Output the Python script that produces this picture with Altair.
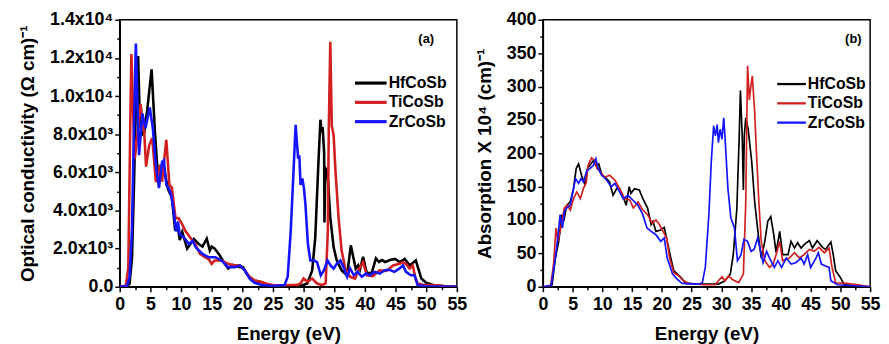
import altair as alt
import pandas as pd

MATERIALS = ["HfCoSb", "TiCoSb", "ZrCoSb"]
COLORS = ["#000000", "#d21f1f", "#1414ff"]
FONT = "Liberation Sans"

# ---- panel (a): optical conductivity, (energy eV, value) ----
HF_COND = [(0, 0), (1.0, 0), (1.6, 150), (2.0, 1500), (2.3, 5000), (2.6, 9000), (3.0, 12100),
           (3.3, 8500), (3.7, 8000), (4.0, 8100), (4.5, 9300), (5.2, 11400), (5.75, 8100),
           (6.1, 6400), (6.5, 5500), (6.9, 6000), (7.4, 5900), (7.9, 5100), (8.5, 4700),
           (9.0, 3100), (9.4, 3300), (9.8, 2450), (10.2, 2870), (11.0, 2000), (12.1, 2500),
           (12.9, 2240), (13.5, 2100), (14.2, 2520), (14.7, 1900), (15.0, 2100), (15.5, 2000),
           (16.3, 1650), (17.1, 1220), (17.7, 960), (18.5, 1140), (19.6, 1030), (20.1, 1030),
           (20.7, 690), (21.5, 340), (22.5, 200), (23.0, 260), (24.1, 90), (25, 40), (27, 30),
           (29.5, 40), (30.6, 170), (31.4, 860), (31.9, 2580), (32.4, 6380), (32.74, 8760),
           (32.95, 8100), (33.1, 8370), (33.35, 7000), (33.4, 3370), (33.55, 6220), (33.9, 6040),
           (34.35, 3630), (34.9, 2070), (35.4, 1380), (36.2, 860), (37.1, 600), (37.7, 2170),
           (38.5, 950), (38.9, 1120), (39.2, 900), (39.7, 1570), (40.3, 720), (41.1, 720),
           (41.8, 1490), (42.3, 1300), (42.8, 1400), (43.3, 1300), (44.1, 1400), (44.9, 1460),
           (45.7, 1290), (46.5, 1460), (47.3, 1120), (48.3, 1380), (48.8, 860), (49.2, 430),
           (50.0, 210), (51.1, 90), (53, 20), (55, 0)]

TI_COND = [(0, 0), (1.0, 50), (1.4, 1000), (1.7, 8000), (1.9, 12200), (2.2, 9000), (2.45, 6700),
           (2.9, 8000), (3.4, 9570), (3.8, 8500), (4.0, 8100), (4.3, 6300), (4.8, 7400), (5.3, 7800),
           (5.9, 5500), (6.3, 5800), (6.6, 6400), (6.9, 5500), (7.2, 6500), (7.6, 7700), (8.1, 5350),
           (8.5, 5200), (9.1, 3600), (9.6, 3600), (10.2, 3270), (10.7, 2930), (11.5, 2580),
           (12.3, 2240), (13.1, 1720), (13.9, 1550), (14.5, 1450), (15.0, 1200), (15.5, 1380),
           (16.6, 1380), (17.7, 1200), (18.8, 1120), (19.6, 1120), (20.4, 860), (21.2, 520),
           (22.0, 340), (23.0, 260), (24.1, 140), (25, 90), (27, 80), (29.0, 100), (29.5, 170),
           (30.0, 430), (30.6, 260), (31.4, 430), (32.2, 170), (33.0, 90), (33.6, 170),
           (33.95, 2930), (34.1, 8100), (34.35, 12850), (34.6, 8450), (34.9, 7940), (35.2, 6040),
           (35.7, 3630), (36.2, 1900), (36.8, 950), (37.6, 520), (38.4, 430), (38.9, 860),
           (39.7, 1290), (40.3, 600), (41.3, 550), (42.4, 860), (43.5, 830), (44.6, 1120),
           (45.6, 1200), (46.2, 1290), (46.7, 1200), (47.3, 950), (47.8, 1120), (48.2, 520),
           (48.6, 170), (49.5, 100), (52, 80), (53, 20), (55, 0)]

ZR_COND = [(0, 0), (1.2, 50), (1.6, 500), (2.0, 3000), (2.3, 8000), (2.63, 12760), (2.9, 9500),
           (3.15, 6900), (3.7, 9090), (4.2, 8310), (4.9, 9400), (5.4, 8310), (5.9, 6370), (6.4, 5170),
           (6.9, 6540), (7.2, 6630), (7.6, 5340), (8.0, 5170), (8.4, 4820), (8.8, 3960), (9.2, 2900),
           (9.5, 3400), (9.8, 2750), (10.5, 2580), (11.3, 2240), (11.9, 2410), (12.4, 2070),
           (13.5, 1720), (14.5, 1550), (15.6, 1550), (16.6, 1380), (17.7, 1030), (18.8, 1030),
           (19.6, 1120), (20.4, 860), (21.2, 430), (22.0, 210), (23.1, 90), (25, 40), (26.9, 90),
           (27.4, 520), (27.9, 2930), (28.4, 6380), (28.7, 8490), (29.1, 6720), (29.3, 6890),
           (29.5, 5340), (29.8, 5680), (30.05, 5170), (30.3, 4310), (30.7, 2240), (31.1, 1380),
           (31.7, 1380), (32.2, 1290), (32.8, 600), (33.3, 860), (33.9, 1380), (34.4, 1120),
           (34.9, 950), (35.4, 1200), (36.0, 1380), (36.5, 1030), (37.1, 520), (37.6, 950),
           (38.2, 600), (38.8, 780), (39.5, 520), (40.2, 690), (40.8, 600), (41.6, 780), (42.4, 690),
           (43.2, 860), (44.0, 890), (44.8, 780), (45.6, 950), (46.2, 1120), (46.7, 780),
           (47.5, 600), (48.1, 600), (48.6, 90), (50, 20), (55, 0)]

# ---- panel (b): absorption (x 10^4 cm^-1) ----
HF_ABS = [(0, 0), (1.0, 0), (1.55, 3), (2.1, 43), (2.66, 68), (3.2, 108), (3.5, 98), (4.0, 122),
          (4.6, 127), (5.15, 147), (5.6, 177), (6.0, 184), (6.5, 167), (7.1, 152), (7.5, 177),
          (7.9, 182), (8.5, 189), (8.9, 182), (9.4, 184), (9.9, 167), (10.7, 162), (11.2, 157),
          (11.8, 137), (12.4, 147), (12.9, 147), (13.5, 135), (14.0, 122), (14.5, 150), (14.8, 140),
          (15.4, 147), (16.2, 145), (16.8, 132), (17.6, 118), (18.2, 93), (18.5, 98), (19.0, 83),
          (19.8, 85), (20.4, 89), (20.9, 68), (21.5, 43), (22.0, 24), (22.6, 19), (23.2, 14),
          (24.0, 5), (26, 4), (28.5, 4), (29.5, 4), (30.6, 9), (31.5, 19), (32.0, 48), (32.6, 117),
          (33.0, 226), (33.2, 294), (33.5, 226), (33.7, 145), (33.85, 226), (34.1, 253), (34.5, 236),
          (35.1, 187), (35.6, 127), (36.2, 78), (36.7, 43), (37.3, 68), (37.8, 98), (38.3, 105),
          (38.8, 78), (39.2, 51), (39.8, 83), (40.3, 48), (41.2, 48), (41.7, 68), (42.3, 58),
          (42.8, 66), (43.4, 58), (43.9, 63), (44.8, 69), (45.3, 58), (46.1, 69), (47.0, 59),
          (47.5, 56), (48.4, 67), (48.8, 48), (49.2, 24), (50.0, 14), (50.6, 4), (52, 1), (55, 0)]

TI_ABS = [(0, 0), (1.3, 2), (1.8, 34), (2.2, 88), (2.55, 68), (2.9, 83), (3.2, 98), (3.6, 118),
          (4.15, 122), (4.6, 115), (5.15, 132), (5.7, 142), (6.3, 132), (6.8, 147), (7.3, 157),
          (7.6, 182), (8.2, 193), (8.75, 189), (9.1, 177), (9.7, 172), (10.4, 164), (11.2, 167),
          (12.1, 160), (12.9, 147), (13.7, 132), (14.6, 130), (15.2, 118), (16.0, 127), (16.8, 115),
          (17.6, 108), (18.4, 95), (19.0, 100), (19.6, 93), (20.2, 83), (20.8, 73), (21.3, 43),
          (22.0, 21), (22.9, 16), (23.7, 9), (24.5, 5), (27, 3), (29.0, 3), (29.5, 9), (30.1, 15),
          (30.6, 9), (31.2, 16), (32.0, 10), (32.9, 6), (33.7, 19), (34.1, 127), (34.4, 331),
          (34.7, 280), (34.95, 300), (35.2, 316), (35.6, 261), (35.9, 201), (36.3, 127), (36.7, 68),
          (37.3, 39), (38.1, 29), (38.7, 34), (39.2, 48), (39.8, 68), (40.3, 39), (41.4, 43),
          (42.3, 51), (43.1, 43), (43.9, 48), (44.8, 56), (45.6, 53), (46.4, 59), (47.3, 51),
          (48.1, 58), (48.6, 29), (49.2, 6), (51, 5), (53, 3), (55, 0)]

ZR_ABS = [(0, 0), (1.4, 2), (2.1, 43), (2.55, 78), (2.9, 108), (3.3, 88), (3.6, 113), (4.0, 118),
          (4.6, 122), (5.15, 147), (5.5, 162), (6.0, 155), (6.4, 162), (6.8, 157), (7.4, 174),
          (7.9, 177), (8.5, 182), (8.9, 192), (9.3, 177), (9.9, 167), (10.7, 160), (11.5, 150),
          (12.1, 155), (12.6, 147), (13.5, 132), (14.3, 137), (15.1, 130), (16.0, 122), (16.8, 108),
          (17.5, 88), (18.2, 83), (19.0, 78), (19.8, 68), (20.4, 73), (20.9, 43), (21.8, 19),
          (22.6, 11), (23.4, 5), (26.2, 4), (26.8, 6), (27.3, 29), (27.9, 108), (28.3, 187),
          (28.7, 241), (29.0, 226), (29.3, 243), (29.5, 216), (29.8, 236), (30.1, 221), (30.4, 253),
          (30.6, 226), (31.1, 147), (31.6, 103), (32.2, 88), (32.7, 39), (33.3, 48), (33.8, 71),
          (34.4, 68), (35.0, 53), (35.5, 56), (36.1, 73), (36.6, 53), (37.0, 36), (37.6, 53),
          (38.1, 43), (38.9, 29), (39.5, 39), (40.1, 29), (40.9, 43), (41.7, 34), (42.5, 36),
          (43.4, 43), (43.9, 34), (44.5, 48), (45.0, 29), (45.9, 43), (46.3, 51), (46.8, 34),
          (47.5, 31), (48.1, 29), (48.4, 9), (49.5, 3), (55, 0)]

X_MAJOR = [0, 5, 10, 15, 20, 25, 30, 35, 40, 45, 50, 55]
X_MINOR = [2.5, 7.5, 12.5, 17.5, 22.5, 27.5, 32.5, 37.5, 42.5, 47.5, 52.5]
COND_MAJOR = [0, 2000, 4000, 6000, 8000, 10000, 12000, 14000]
COND_MINOR = [1000, 3000, 5000, 7000, 9000, 11000, 13000]
ABS_MAJOR = [0, 50, 100, 150, 200, 250, 300, 350, 400]
ABS_MINOR = [25, 75, 125, 175, 225, 275, 325, 375]

COND_LABELS = ("datum.value == 0 ? '0.0' : (datum.value < 10000 ? "
               "format(datum.value / 1000, '.1f') + 'x10\u00b3' : "
               "format(datum.value / 10000, '.1f') + 'x10\u2074')")


def frame(series):
    rows = []
    for name, pts in zip(MATERIALS, series):
        for e, v in pts:
            rows.append({"E": e, "V": v, "Material": name})
    return pd.DataFrame(rows)


def legend_layers(lx, ly, line_len, lw, step):
    layers = []
    for i, (name, col) in enumerate(zip(MATERIALS, COLORS)):
        y = ly + step * i
        src = pd.DataFrame({"name": [name]})
        layers.append(alt.Chart(src).mark_rule(color=col, strokeWidth=lw).encode(
            x=alt.value(lx), x2=alt.value(lx + line_len), y=alt.value(y)))
        layers.append(alt.Chart(src).mark_text(
            font=FONT, fontSize=16, fontWeight="bold", color="black",
            align="left", baseline="middle").encode(
            text="name:N", x=alt.value(lx + line_len + 2), y=alt.value(y)))
    return layers


def panel(df, ymax, ymajor, yminor, ytitle, label_expr, tag, tag_x, lw, lx, ly,
          line_len, w, h):
    xs = alt.Scale(domain=[0, 55], nice=False, zero=False)
    ys = alt.Scale(domain=[0, ymax], nice=False)
    color = alt.Color("Material:N", scale=alt.Scale(domain=MATERIALS, range=COLORS),
                      legend=None)
    if label_expr:
        yaxis = alt.Axis(values=ymajor, title=ytitle, titlePadding=12, labelExpr=label_expr)
    else:
        yaxis = alt.Axis(values=ymajor, title=ytitle, titlePadding=12)
    lines = alt.Chart(df).mark_line(strokeWidth=lw, clip=True).encode(
        x=alt.X("E:Q", scale=xs, axis=alt.Axis(values=X_MAJOR, title="Energy (eV)",
                                               titlePadding=11, labelPadding=4,
                                               labelFlush=False, labelOverlap=False)),
        y=alt.Y("V:Q", scale=ys, axis=yaxis),
        color=color,
    )
    minor = alt.Chart(df).mark_line(opacity=0).encode(
        x=alt.X("E:Q", scale=xs, axis=alt.Axis(values=X_MINOR, labels=False, title=None,
                                               tickSize=3, domain=False, orient="bottom")),
        y=alt.Y("V:Q", scale=ys, axis=alt.Axis(values=yminor, labels=False, title=None,
                                               tickSize=3, domain=False, orient="left")),
    )
    label = alt.Chart(pd.DataFrame({"t": [tag]})).mark_text(
        font=FONT, fontSize=13, fontWeight="bold", color="black"
    ).encode(text="t:N", x=alt.value(tag_x), y=alt.value(19))
    layers = [lines, minor, label] + legend_layers(lx, ly, line_len, lw + 0.6, 19.5)
    return alt.layer(*layers).resolve_axis(
        x="independent", y="independent").properties(width=w, height=h)


left = panel(frame([HF_COND, TI_COND, ZR_COND]), 14000, COND_MAJOR, COND_MINOR,
             "Optical conductivity (\u03a9 cm)\u207b\u00b9", COND_LABELS, "(a)", 310, 2.6,
             238, 64, 32, 341, 270)
right = panel(frame([HF_ABS, TI_ABS, ZR_ABS]), 400, ABS_MAJOR, ABS_MINOR,
              "Absorption X 10\u2074 (cm)\u207b\u00b9", None, "(b)", 314, 1.7,
              237, 65, 29, 331, 270)

chart = alt.hconcat(left, right, spacing=7).properties(
    padding={"left": 10, "top": 0, "right": 0, "bottom": 0}
).configure_view(stroke="black", strokeWidth=1.5).configure_axis(
    labelFont=FONT, titleFont=FONT, labelFontWeight="bold", titleFontWeight="bold",
    labelFontSize=18, titleFontSize=19, labelColor="black", titleColor="black",
    domainColor="black", tickColor="black", domainWidth=1.5, tickWidth=1.5, tickSize=5,
    grid=False, labelPadding=2
)

chart.save("out.html", embed_options={"renderer": "svg", "actions": False})
